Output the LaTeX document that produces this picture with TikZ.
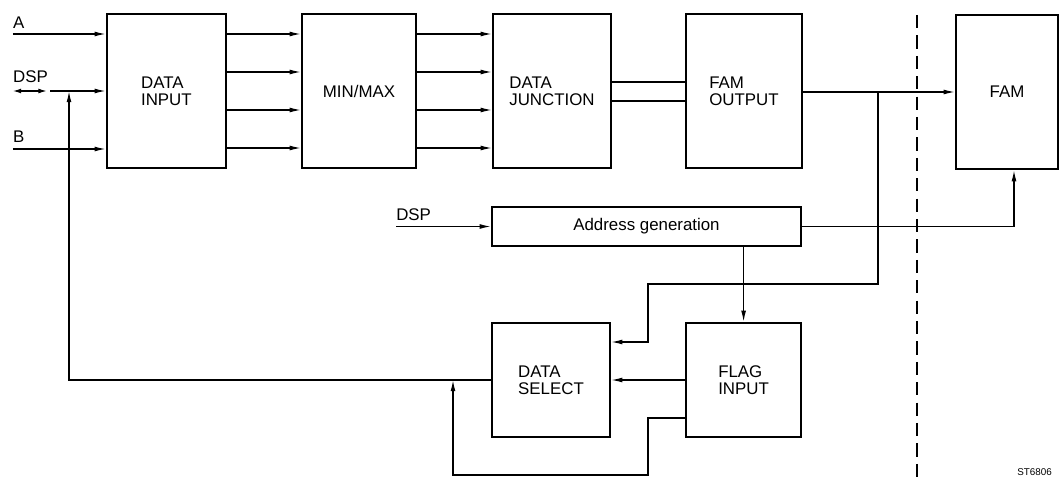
\documentclass[tikz,border=0pt]{standalone}
\usepackage{fontspec}
\setmainfont{Liberation Sans}
\usetikzlibrary{arrows.meta, positioning}

\begin{document}
\begin{tikzpicture}[
          block/.style={
              draw=black,
              line width=1.6pt,
              minimum height=3.85cm,
              inner sep=0pt,
              font=\fontsize{12}{12}\selectfont,
              align=left
            },
          lowblock/.style={block, minimum height=2.85cm},
          sig/.style={font=\fontsize{12}{12}\selectfont, inner sep=0pt},
          arr/.style={-{Latex[length=8pt,width=3.5pt]}, line width=0.9pt},
          both/.style={{Latex[length=6pt,width=3.5pt]}-{Latex[length=6pt,width=3.5pt]}, line width=0.9pt},
          wire/.style={line width=0.9pt},
          border/.style={dash pattern=on 0.33cm off 0.18cm, line width=2pt}
        ]
        \useasboundingbox (0,0) rectangle (26.55,-11.925);

        % top row
        \node[block, minimum width=2.975cm] (din) at (4.16,-2.275) {DATA\\INPUT};
        \node[block, minimum width=2.85cm] (mm) at (8.975,-2.275) {MIN/MAX};
        \node[block, minimum width=2.95cm] (dj) at (13.8,-2.275) {DATA\\JUNCTION};
        \node[block, minimum width=2.9cm] (fo) at (18.6,-2.275) {FAM\\OUTPUT};
        \node[block, minimum width=2.55cm] (fam) at (25.175,-2.3) {FAM};

        % lower part
        \node[block, minimum width=7.725cm, minimum height=0.975cm] (ag) at (16.1625,-5.6625) {Address generation};
        \node[lowblock, minimum width=2.95cm] (ds) at (13.775,-9.5) {DATA\\SELECT};
        \node[lowblock, minimum width=2.875cm] (fi) at (18.59,-9.5) {FLAG\\INPUT};

        % inputs
        \coordinate (ain) at (0.32,-0.85);
        \coordinate (dspl) at (0.32,-2.275);
        \coordinate (dspr) at (1.17,-2.275);
        \coordinate (dspin) at (1.25,-2.275);
        \coordinate (bin) at (0.32,-3.725);
        \coordinate (fb) at (1.725,-2.275);
        \coordinate (agin) at (9.9,-5.6625);
        \node[sig, anchor=base west] (la) at ([yshift=0.14cm]ain) {A};
        \node[sig, anchor=base west] (ldsp) at ([yshift=0.2cm]dspl) {DSP};
        \node[sig, anchor=base west] (lb) at ([yshift=0.17cm]bin) {B};
        \node[sig, anchor=base west] (ldsp2) at ([yshift=0.15cm]agin) {DSP};

        \draw[arr] (ain) -- (ain -| din.west);
        \draw[both] (dspl) -- (dspr);
        \draw[arr] (dspin) -- (din.west);
        \draw[arr] (bin) -- (bin -| din.west);

        \draw[arr] ([yshift=1.425cm]din.east) -- ([yshift=1.425cm]mm.west);
        \draw[arr] ([yshift=0.475cm]din.east) -- ([yshift=0.475cm]mm.west);
        \draw[arr] ([yshift=-0.475cm]din.east) -- ([yshift=-0.475cm]mm.west);
        \draw[arr] ([yshift=-1.425cm]din.east) -- ([yshift=-1.425cm]mm.west);

        \draw[arr] ([yshift=1.425cm]mm.east) -- ([yshift=1.425cm]dj.west);
        \draw[arr] ([yshift=0.475cm]mm.east) -- ([yshift=0.475cm]dj.west);
        \draw[arr] ([yshift=-0.475cm]mm.east) -- ([yshift=-0.475cm]dj.west);
        \draw[arr] ([yshift=-1.425cm]mm.east) -- ([yshift=-1.425cm]dj.west);

        \draw[wire] ([yshift=0.225cm]dj.east) -- ([yshift=0.225cm]fo.west);
        \draw[wire] ([yshift=-0.25cm]dj.east) -- ([yshift=-0.25cm]fo.west);

        \coordinate (split) at (21.95,-2.3);
        \coordinate (bend) at (16.2,-7.1);
        \draw[arr] (fo.east |- split) -- (fam.west |- split);
        \draw[arr] (split) |- (bend) |- ([yshift=0.95cm]ds.east);

        \draw[arr] (agin) -- (ag.west);
        \draw[arr] (ag.east) -| ([xshift=0.175cm]fam.south);
        \draw[arr] (ag.south -| fi.north) -- (fi.north);

        \draw[arr] (fi.west) -- (ds.east);
        \coordinate (lowbend) at (16.2,-11.875);
        \coordinate (join) at (11.325,-9.5);
        \draw[arr] ([yshift=-0.95cm]fi.west) -| (lowbend) -| (join);
        \draw[arr] (ds.west) -| (fb);

        % system border
        \draw[border] (22.925,-0.375) -- (22.925,-11.925);
        \node[font=\fontsize{7}{8}\selectfont, inner sep=0pt, anchor=base east] (ref) at (26.3,-11.88) {ST6806};
      \end{tikzpicture}
\end{document}
